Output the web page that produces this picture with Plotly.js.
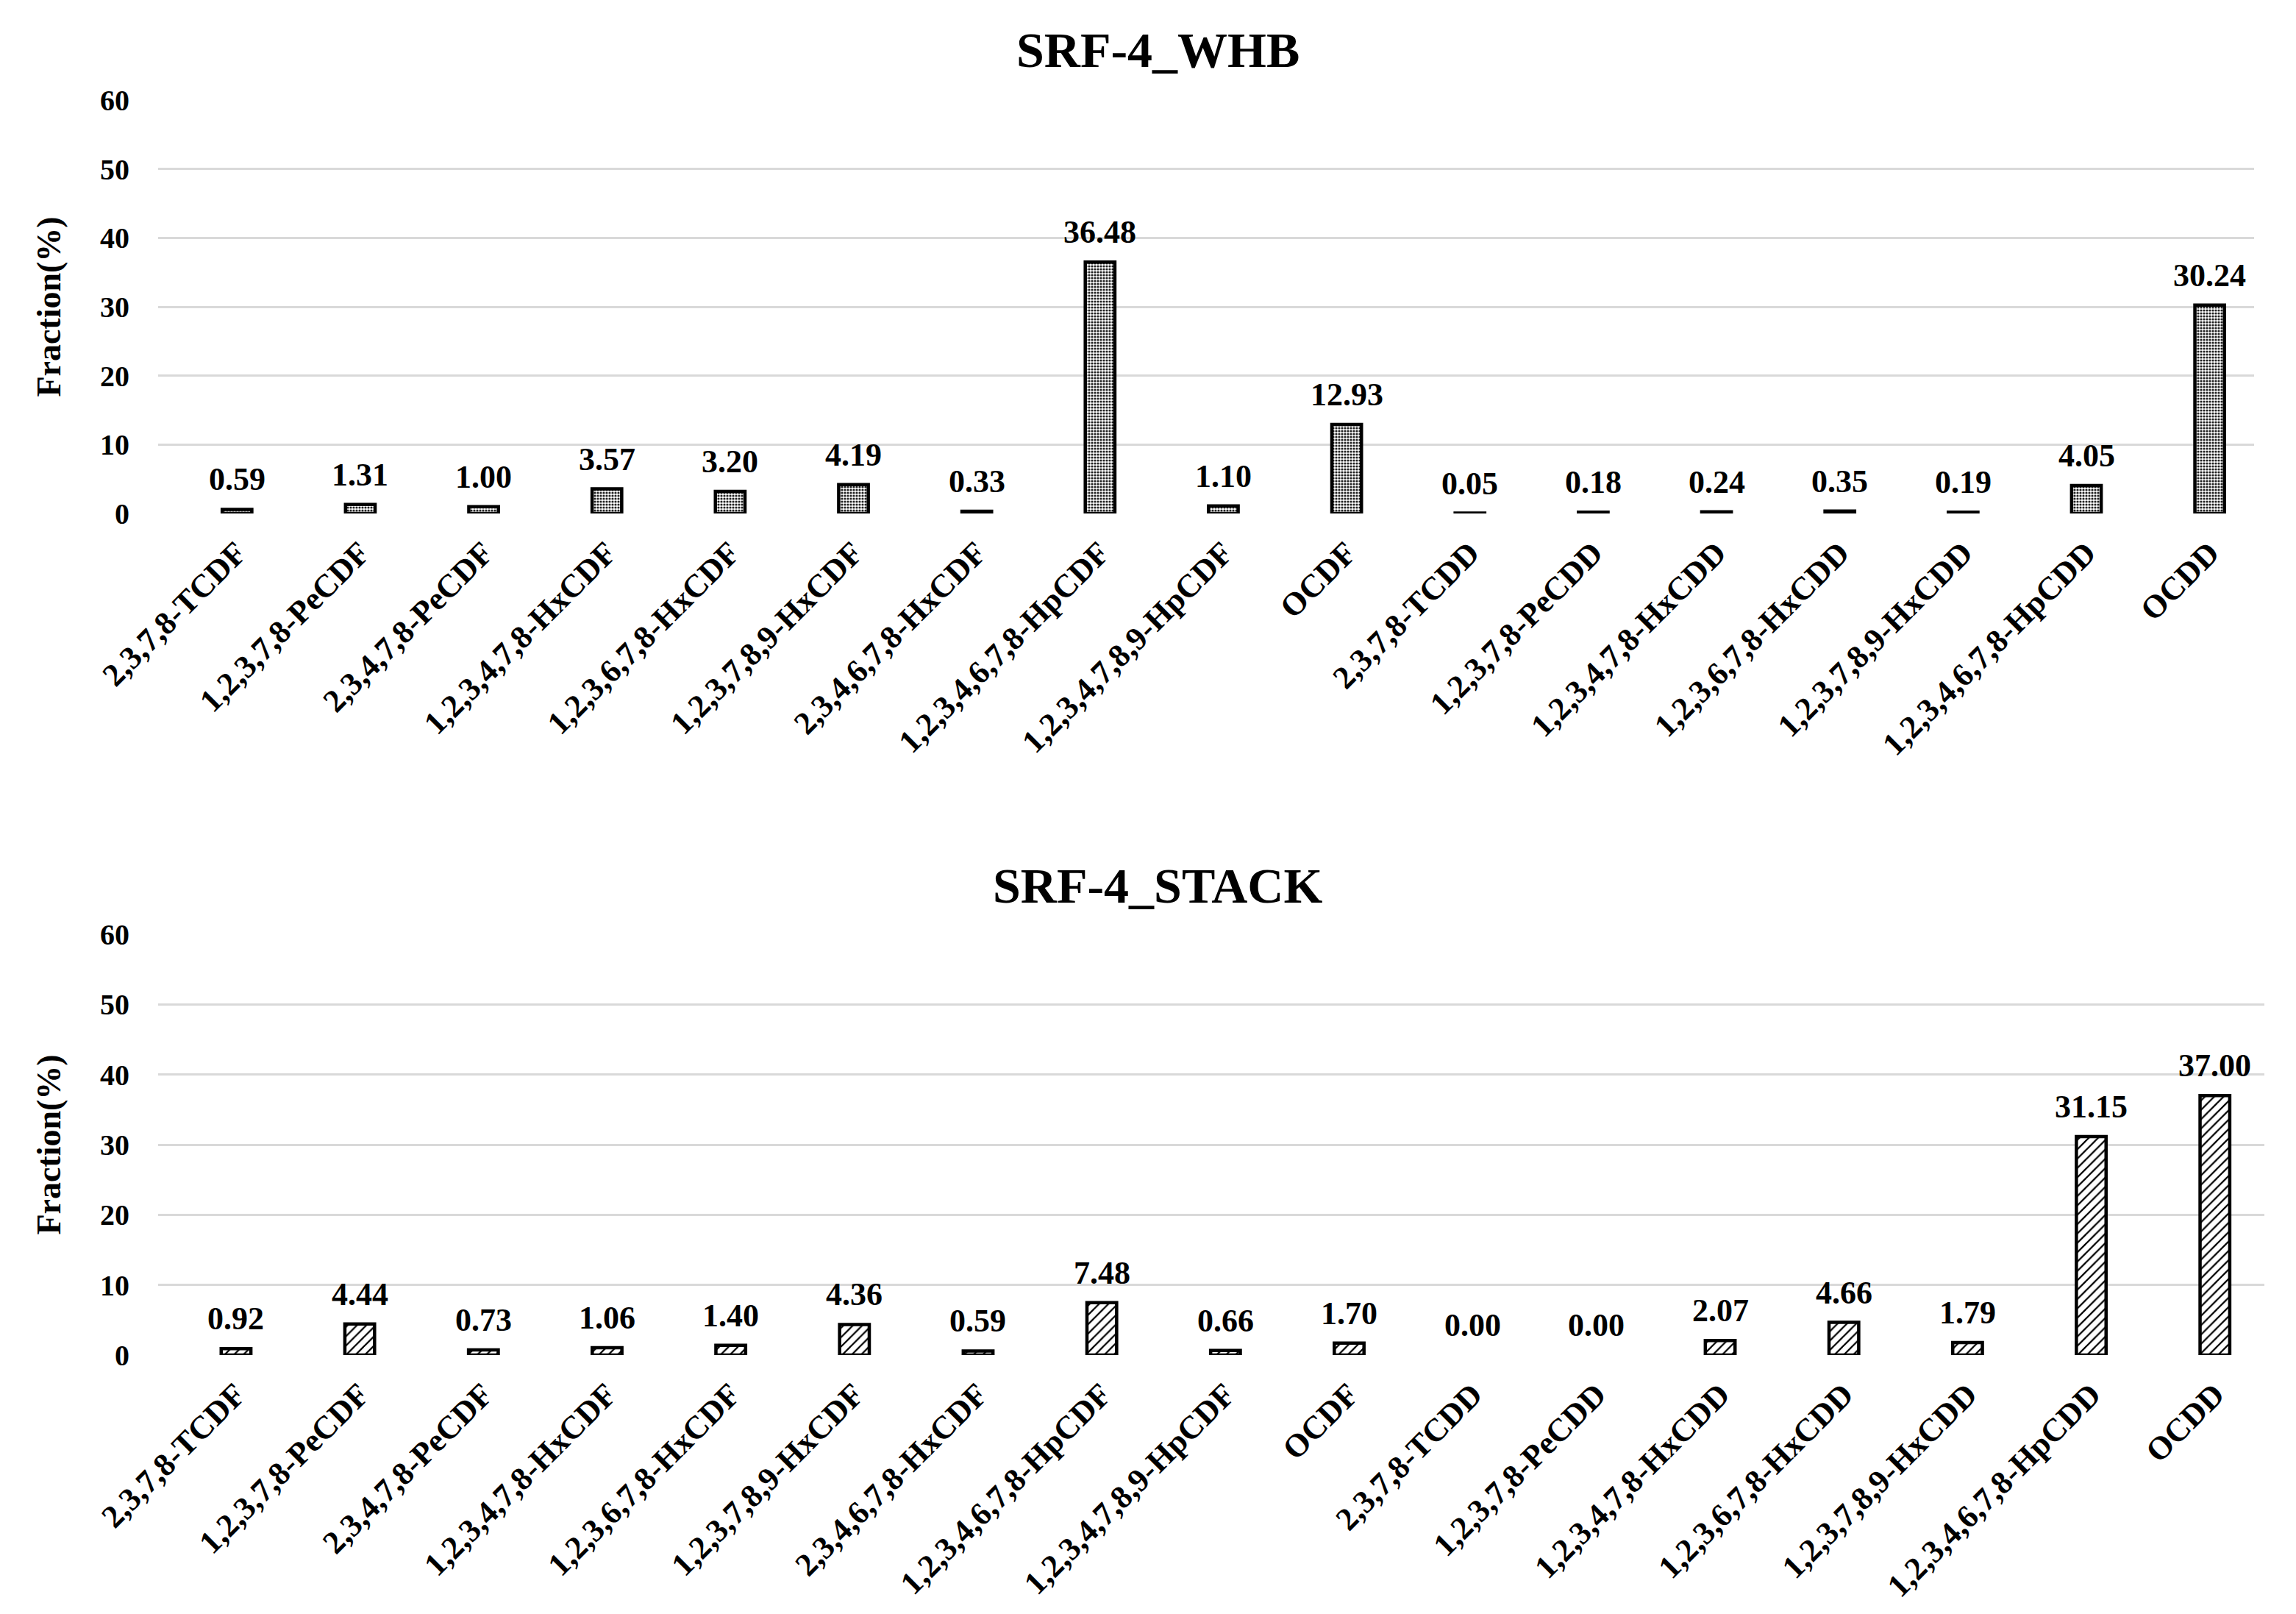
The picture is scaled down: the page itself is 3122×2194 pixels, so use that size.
<!DOCTYPE html>
<html><head><meta charset="utf-8">
<script src="https://cdn.plot.ly/plotly-3.0.1.min.js"></script>
<style>html,body{margin:0;padding:0;background:#fff}#chart{width:3122px;height:2194px}</style>
</head><body><div id="chart"></div>
<script>
const categories = ['2,3,7,8-TCDF','1,2,3,7,8-PeCDF','2,3,4,7,8-PeCDF','1,2,3,4,7,8-HxCDF','1,2,3,6,7,8-HxCDF','1,2,3,7,8,9-HxCDF','2,3,4,6,7,8-HxCDF','1,2,3,4,6,7,8-HpCDF','1,2,3,4,7,8,9-HpCDF','OCDF','2,3,7,8-TCDD','1,2,3,7,8-PeCDD','1,2,3,4,7,8-HxCDD','1,2,3,6,7,8-HxCDD','1,2,3,7,8,9-HxCDD','1,2,3,4,6,7,8-HpCDD','OCDD'];
const whbValues = [0.59,1.31,1.00,3.57,3.20,4.19,0.33,36.48,1.10,12.93,0.05,0.18,0.24,0.35,0.19,4.05,30.24];
const stackValues = [0.92,4.44,0.73,1.06,1.40,4.36,0.59,7.48,0.66,1.70,0.00,0.00,2.07,4.66,1.79,31.15,37.00];
const yTicks = [0,10,20,30,40,50,60];
const titles = ['SRF-4_WHB','SRF-4_STACK'];
const yTitle = 'Fraction(%)';

const FONT = 'Liberation Serif, Times New Roman, serif';
const H = 2194, W = 3122;

const traces = [
  {type:'bar', x:categories, y:whbValues, xaxis:'x', yaxis:'y', width:0.24,
   marker:{color:'#fff', line:{color:'#000', width:whbValues.map(v=>v>0?4.5:0)},
     pattern:{shape:'.', fgcolor:'#222', bgcolor:'#fff', size:4, solidity:0.5}},
   hoverinfo:'none', showlegend:false},
  {type:'bar', x:categories, y:stackValues, xaxis:'x2', yaxis:'y2', width:0.24,
   marker:{color:'#fff', line:{color:'#000', width:stackValues.map(v=>v>0?4.5:0)},
     pattern:{shape:'/', fgcolor:'#000', bgcolor:'#fff', size:9, solidity:0.25}},
   hoverinfo:'none', showlegend:false}
];

const labelFont = {family:FONT, size:44, color:'#000', weight:'bold'};
const annotations = [];
whbValues.forEach((v,i)=>annotations.push({xref:'x', yref:'y', x:categories[i], y:v, text:v.toFixed(2),
  showarrow:false, yanchor:'bottom', yshift:14, font:labelFont}));
stackValues.forEach((v,i)=>annotations.push({xref:'x2', yref:'y2', x:categories[i], y:v, text:v.toFixed(2),
  showarrow:false, yanchor:'bottom', yshift:14, font:labelFont}));
annotations.push({xref:'paper', yref:'paper', x:1574/W, y:1-68/H, text:titles[0], showarrow:false,
  yanchor:'middle', font:{family:FONT, size:68, color:'#000', weight:'bold'}});
annotations.push({xref:'paper', yref:'paper', x:1574/W, y:1-1204/H, text:titles[1], showarrow:false,
  yanchor:'middle', font:{family:FONT, size:68, color:'#000', weight:'bold'}});

function xAx(domain, range, anchor){
  return {domain:domain, anchor:anchor, range:range, type:'category', tickangle:-45,
    tickfont:{family:FONT, size:44, color:'#000', weight:'bold'}, ticklabelstandoff:18,
    showgrid:false, showline:false, zeroline:false, ticks:'', automargin:false};
}
function yAx(domain, anchor){
  return {domain:domain, anchor:anchor, range:[0,60], tickvals:yTicks, ticktext:yTicks.map(String),
    tickfont:{family:FONT, size:40, color:'#000', weight:'bold'},
    gridcolor:'#d9d9d9', gridwidth:3, zeroline:false, showline:false, ticks:'',
    ticklabelstandoff:38, automargin:false,
    title:{text:yTitle, standoff:38, font:{family:FONT, size:46, color:'#000', weight:'bold'}}};
}

const layout = {
  width:W, height:H, margin:{l:0,r:0,t:0,b:0}, paper_bgcolor:'#fff', plot_bgcolor:'#fff',
  showlegend:false,
  xaxis: xAx([215/W, 3065/W], [-0.64, 16.36], 'y'),
  yaxis: yAx([1-698/H, 1-136/H], 'x'),
  xaxis2: xAx([215/W, 3079/W], [-0.63, 16.4], 'y2'),
  yaxis2: yAx([1-1842/H, 1-1270/H], 'x2'),
  annotations: annotations
};
Plotly.newPlot('chart', traces, layout, {staticPlot:true});
</script></body></html>
